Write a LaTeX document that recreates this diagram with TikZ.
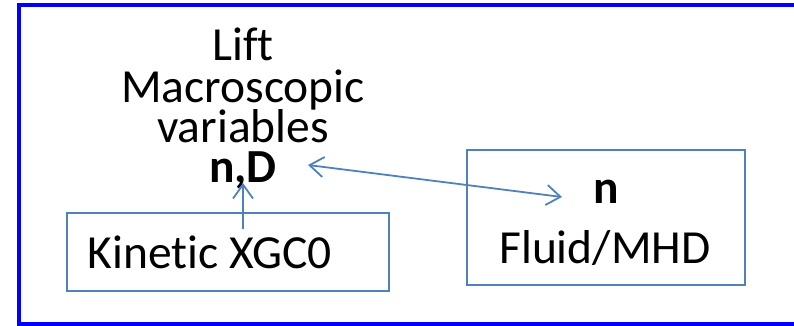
\documentclass[tikz,border=0pt]{standalone}
\usepackage{fontspec}
\setmainfont[Ligatures=NoCommon]{Carlito}
\usetikzlibrary{arrows.meta}
\definecolor{frameblue}{RGB}{0,0,255}
\definecolor{boxblue}{RGB}{79,129,189}
\begin{document}
\begin{tikzpicture}[x=1pt,y=-1pt,
  lbl/.style={anchor=base,inner sep=0pt,text height=29pt,text depth=8pt,font=\fontsize{47.5}{40}\selectfont},
  blbl/.style={lbl,font=\fontsize{47.5}{40}\selectfont\bfseries},
  boxtxt/.style={anchor=base,inner sep=0pt,font=\fontsize{47.5}{46}\selectfont},
  flowbox/.style={draw=boxblue,line width=2pt},
  conn/.style={draw=boxblue,line width=1.8pt,-{Straight Barb[length=14pt,width=20pt,line width=1.8pt]}},
  dconn/.style={draw=boxblue,line width=1.8pt,{Straight Barb[length=14pt,width=20pt,line width=1.8pt]}-{Straight Barb[length=14pt,width=20pt,line width=1.8pt]}}]
\useasboundingbox (0,0) rectangle (794,325);
\draw[frameblue,line width=4pt] (19,5) rectangle (810,323.5);
% boxes
\draw[flowbox] (67,213) rectangle (389,291);
\draw[flowbox] (467,150) rectangle (745,285);
% texts
\node[lbl] (lift) at (243,60) {Lift};
\node[lbl] (macro) at (243,102) {Macroscopic};
\node[lbl] (vars) at (243,142) {variables};
\node[blbl] (nD) at (243,182) {n,D};
\node[boxtxt] (kin) at (210,268) {Kinetic XGC0};
\node[blbl] (n) at (606,203) {n};
\node[boxtxt] (fluid) at (605,263) {Fluid/MHD};
% connectors
\coordinate (upstart) at (243,229);
\coordinate (uptip) at (243,183);
\coordinate (dl) at (308,165);
\coordinate (dr) at (562,197);
\draw[conn] (upstart) -- (uptip);
\draw[dconn] (dl) -- (dr);
\end{tikzpicture}
\end{document}
